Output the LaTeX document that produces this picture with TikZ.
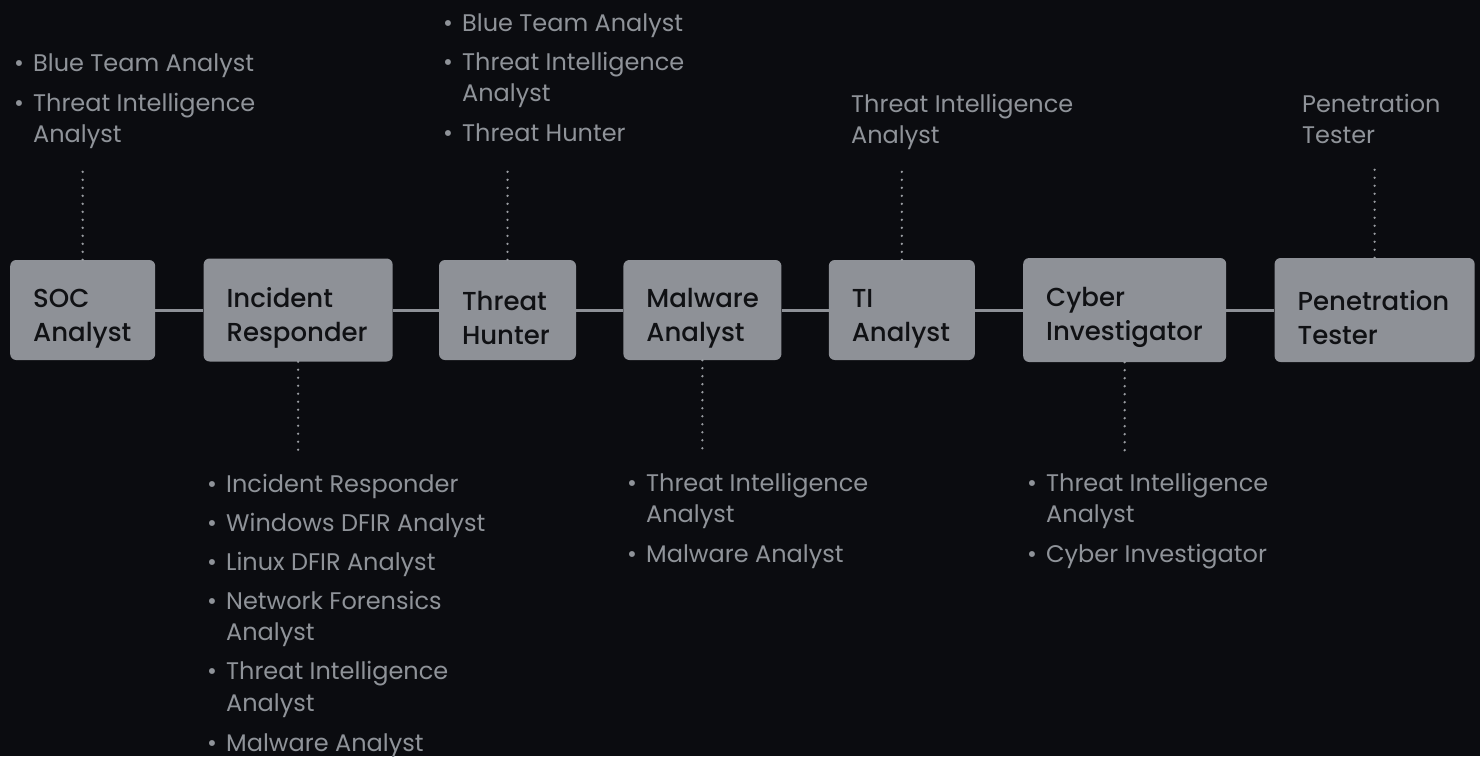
\documentclass[tikz,border=0pt]{standalone}
\usepackage{fontspec}
\setmainfont{Poppins}
\newfontfamily\boxfont{Poppins Medium}
\usetikzlibrary{positioning}

\definecolor{bgdark}{HTML}{0B0C10}
\definecolor{boxgray}{HTML}{8E9197}
\definecolor{boxtext}{HTML}{101114}
\definecolor{listgray}{HTML}{8F9399}
\definecolor{dotgray}{HTML}{9A9DA2}

\tikzset{
  role/.style={fill=boxgray, rounded corners=6pt, text=boxtext, align=left,
    font=\boxfont\fontsize{26}{34}\selectfont, inner xsep=23pt, inner ysep=0pt,
    minimum height=100pt, execute at begin node={\rule{0pt}{35pt}}},
  link/.style={draw=boxgray, line width=3pt},
  leader/.style={draw=dotgray, line width=2.6pt, line cap=round, dash pattern=on 0pt off 8pt},
  skills/.style={text=listgray, font=\fontsize{24}{31.5}\selectfont, inner sep=0pt, anchor=base west},
}
\newcommand{\bul}{\makebox[19pt][l]{•}}

\begin{document}
\begin{tikzpicture}[x=1pt,y=1pt]
\fill[bgdark] (0,0) rectangle (1480,-756);
\useasboundingbox (0,0) rectangle (1480,-756);

% Roles
\node[role, text width=99pt, anchor=west] (soc) at (10,-310) {SOC\\Analyst};
\node[role, text width=143pt, minimum height=103pt, right=48pt of soc] (ir) {Incident\\Responder};
\node[role, text width=91pt, right=46pt of ir] (th) {Threat\\Hunter};
\node[role, text width=112pt, right=47pt of th] (ma) {Malware\\Analyst};
\node[role, text width=100pt, right=47pt of ma] (ti) {TI\\Analyst};
\node[role, text width=157pt, minimum height=104pt, right=48pt of ti] (ci) {Cyber\\Investigator};
\node[role, text width=154pt, minimum height=104pt, right=48pt of ci] (pt) {Penetration\\Tester};

\foreach \a/\b in {soc/ir, ir/th, th/ma, ma/ti, ti/ci, ci/pt}
  \draw[link] (\a) -- (\b);

% Certifications
\node[skills] (socup) at (14,-71) {\begin{tabular}[t]{@{}l@{}l@{}}
\bul & Blue Team Analyst\\[8.5pt]
\bul & Threat Intelligence\\
     & Analyst
\end{tabular}};
\node[skills] (thup) at (443,-31) {\begin{tabular}[t]{@{}l@{}l@{}}
\bul & Blue Team Analyst\\[7.5pt]
\bul & Threat Intelligence\\
     & Analyst\\[8.5pt]
\bul & Threat Hunter
\end{tabular}};
\node[skills] (tiup) at (851,-112) {\begin{tabular}[t]{@{}l@{}}
Threat Intelligence\\
Analyst
\end{tabular}};
\node[skills] (ptup) at (1302,-112) {\begin{tabular}[t]{@{}l@{}}
Penetration\\
Tester
\end{tabular}};
\node[skills] (irdown) at (207,-492) {\begin{tabular}[t]{@{}l@{}l@{}}
\bul & Incident Responder\\[7.5pt]
\bul & Windows DFIR Analyst\\[7.5pt]
\bul & Linux DFIR Analyst\\[7.5pt]
\bul & Network Forensics\\
     & Analyst\\[7.5pt]
\bul & Threat Intelligence\\
     & Analyst\\[8.5pt]
\bul & Malware Analyst
\end{tabular}};
\node[skills] (madown) at (627,-491) {\begin{tabular}[t]{@{}l@{}l@{}}
\bul & Threat Intelligence\\
     & Analyst\\[8.5pt]
\bul & Malware Analyst
\end{tabular}};
\node[skills] (cidown) at (1027,-491) {\begin{tabular}[t]{@{}l@{}l@{}}
\bul & Threat Intelligence\\
     & Analyst\\[8.5pt]
\bul & Cyber Investigator
\end{tabular}};

% Dotted leaders
\coordinate (topend) at (0,-168);
\coordinate (lowend) at (0,-455);
\foreach \r in {soc, th, ti, pt}
  \draw[leader] (\r.north) -- (\r.north |- topend);
\foreach \r in {ir, ma, ci}
  \draw[leader] (\r.south) -- (\r.south |- lowend);

\end{tikzpicture}
\end{document}
